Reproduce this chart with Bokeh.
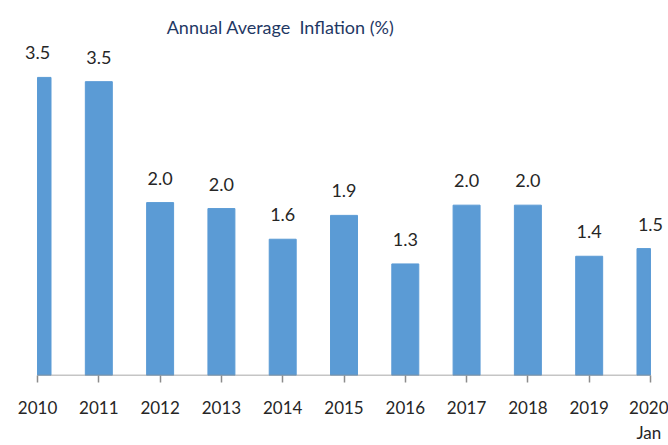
import numpy as np
from bokeh.plotting import figure
from bokeh.models import Range1d, ColumnDataSource, LabelSet, Label, FixedTicker
from bokeh.core.properties import value
from bokeh.embed import file_html
from bokeh.resources import INLINE

years = [2010, 2011, 2012, 2013, 2014, 2015, 2016, 2017, 2018, 2019, 2020]
inflation = [3.50, 3.45, 2.03, 1.96, 1.60, 1.88, 1.31, 2.00, 2.00, 1.40, 1.49]
value_labels = ["3.5", "3.5", "2.0", "2.0", "1.6", "1.9", "1.3", "2.0", "2.0", "1.4", "1.5"]
tick_labels = {2020: "2020\nJan"}
title_text = "Annual Average \u00a0Inflation (%)"

FONT = "Lato"
BAR = "#5B9BD5"
TXT = "#262626"
BAR_W = 0.44

yrs = np.array(years, dtype=float)
# bars are cut off at the first and last year, as in the original chart
left = np.clip(yrs - BAR_W / 2, yrs.min(), yrs.max())
right = np.clip(yrs + BAR_W / 2, yrs.min(), yrs.max())

src = ColumnDataSource(dict(year=years, val=inflation, lab=value_labels, left=left, right=right))

p = figure(width=668, height=445, x_range=Range1d(2009.396, 2020.294), y_range=Range1d(0, 4.403),
           output_backend="svg", toolbar_location=None, title=None,
           min_border_left=0, min_border_right=0, min_border_top=0, min_border_bottom=65)

p.quad(left="left", right="right", top="val", bottom=0, source=src, color=BAR)

# axis baseline only between first and last year
p.segment(x0=[years[0]], y0=[0], x1=[years[-1]], y1=[0], line_color="#8C8C8C", line_width=1.5)

labels = LabelSet(x="year", y="val", text="lab", source=src, y_offset=18,
                  text_align="center", text_baseline="alphabetic",
                  text_font=value(FONT), text_font_size=value("18px"), text_color=TXT)
p.add_layout(labels)

title = Label(x=2013.964, y=4.09, text=title_text, text_align="center", text_baseline="middle",
              text_font=FONT, text_font_size="18px", text_color="#1F3864")
p.add_layout(title)

p.yaxis.visible = False
p.xgrid.visible = False
p.ygrid.visible = False
p.outline_line_color = None

ax = p.xaxis[0]
ax.ticker = FixedTicker(ticks=years)
ax.major_label_overrides = tick_labels
ax.major_tick_out = 7
ax.major_tick_in = 0
ax.minor_tick_line_color = None
ax.axis_line_color = None
ax.major_tick_line_color = "#8C8C8C"
ax.major_tick_line_width = 1.5
ax.major_label_text_font = FONT
ax.major_label_text_font_size = "17px"
ax.major_label_text_color = TXT
ax.major_label_standoff = 14

open("out.html", "w").write(file_html(p, INLINE))
